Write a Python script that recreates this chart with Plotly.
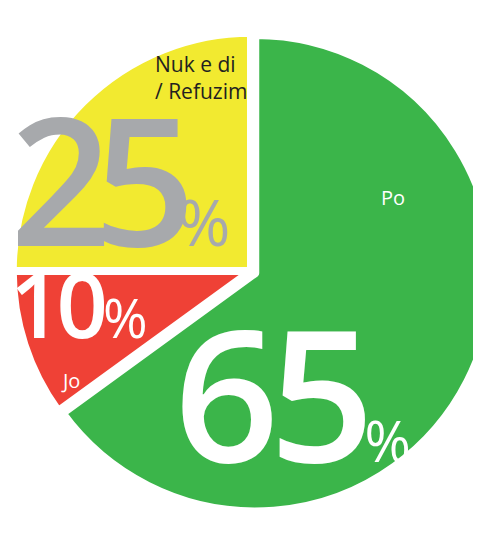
import plotly.graph_objects as go

# Data
labels = ["Po", "Jo", "Nuk e di / Refuzim"]
values = [65, 10, 25]
colors = ["#3BB54A", "#EF4136", "#F2EA30"]
label_text = ["Po", "Jo", "Nuk e di<br>/ Refuzim"]

FIG_W, FIG_H = 486, 546
MB = 20          # bottom margin, centres the pie vertically
OFF = 8          # page body offset

fig = go.Figure(go.Pie(
    labels=labels,
    values=values,
    sort=False,
    direction="clockwise",
    rotation=0,
    pull=[0.02, 0, 0],
    marker=dict(colors=colors, line=dict(color="white", width=8)),
    textinfo="none",
    hoverinfo="label+percent",
    showlegend=False,
))

vals = dict(zip(labels, values))
txt = dict(zip(labels, label_text))


def px(x):
    return (x - OFF) / FIG_W


def py(y):
    return 1 - (y - OFF) / (FIG_H - MB)


def big(num, pct_size, spacing):
    return (f"<span style='letter-spacing:{spacing}px'>{num}</span>"
            f"<span style='font-size:{pct_size}px;font-weight:400'>%</span>")


FONT = "Open Sans, Noto Sans, sans-serif"
ann = []
# Big percentage numbers (positions in window pixels)
ann.append(dict(x=px(172), y=py(518), xanchor="left", yanchor="bottom",
                text=big(vals['Po'], 56, -10),
                font=dict(size=184, color="white", family=FONT, weight=600)))
ann.append(dict(x=px(8), y=py(300), xanchor="left", yanchor="bottom",
                text=big(vals['Nuk e di / Refuzim'], 64, -18),
                font=dict(size=178, color="#A7A9AC", family=FONT, weight=600)))
ann.append(dict(x=px(8), y=py(366), xanchor="left", yanchor="bottom",
                text=big(vals['Jo'], 54, -5),
                font=dict(size=90, color="white", family=FONT, weight=600)))
# Category labels
ann.append(dict(x=px(393), y=py(197), xanchor="center", yanchor="middle",
                text=txt["Po"], font=dict(size=20, color="white", family=FONT)))
ann.append(dict(x=px(70), y=py(380), xanchor="center", yanchor="middle",
                text=txt["Jo"], font=dict(size=20, color="white", family=FONT)))
ann.append(dict(x=px(153), y=py(48), xanchor="left", yanchor="top", align="left",
                text=txt["Nuk e di / Refuzim"],
                font=dict(size=21, color="#231F20", family=FONT)))

for a in ann:
    a.update(xref="paper", yref="paper", showarrow=False)

fig.update_layout(
    width=FIG_W, height=FIG_H,
    margin=dict(l=0, r=0, t=0, b=MB),
    paper_bgcolor="white",
    plot_bgcolor="white",
    annotations=ann,
)

fig.write_html("out.html")
